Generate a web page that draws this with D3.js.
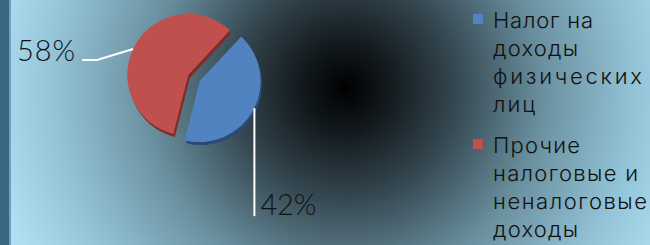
<!DOCTYPE html>
<html><head><meta charset="utf-8">
<script src="https://cdn.jsdelivr.net/npm/d3@7"></script>
<style>
html,body{margin:0;padding:0;overflow:hidden;background:#000;}
svg{display:block;}
</style></head>
<body>
<script>
const categories = ["Налог на доходы физических лиц", "Прочие налоговые и неналоговые доходы"];
const values = [42, 58];
const labels = ["42%", "58%"];
const legendLines = [["Налог на", "доходы", "физических", "лиц"], ["Прочие", "налоговые и", "неналоговые", "доходы"]];
const colors = ["#5083c0", "#c0504d"];
const darkColors = ["#2b4a78", "#7e2c2a"];

const W = 650, H = 245;
const svg = d3.select("body").append("svg").attr("width", W).attr("height", H);
const defs = svg.append("defs");

const bg = defs.append("radialGradient").attr("id", "bg")
  .attr("gradientUnits", "userSpaceOnUse").attr("cx", 345).attr("cy", 88).attr("r", 360);
[[0, "#000000"], [0.12, "#12191c"], [0.3, "#33454e"], [0.55, "#6a909f"], [0.8, "#92c2d6"], [1, "#aee0f2"]]
  .forEach(([o, c]) => bg.append("stop").attr("offset", o).attr("stop-color", c));

svg.append("rect").attr("width", W).attr("height", H).attr("fill", "url(#bg)");
svg.append("rect").attr("x", 0).attr("y", 0).attr("width", 9).attr("height", H).attr("fill", "#38687e");
svg.append("rect").attr("x", 9).attr("y", 0).attr("width", 2).attr("height", H).attr("fill", "#6c9fd0");

// Pie
const cx = 194, cy = 78, R = 61, explode = 6.5;
const startA = 43 * Math.PI / 180;
const pie = d3.pie().sort(null).startAngle(startA).endAngle(startA + 2 * Math.PI).value(d => d);
const arcs = pie(values);
const arc = d3.arc().innerRadius(0).outerRadius(R);
const g = svg.append("g").attr("transform", `translate(${cx},${cy})`);

function off(d) {
  const m = (d.startAngle + d.endAngle) / 2;
  return [Math.sin(m) * explode, -Math.cos(m) * explode];
}
// depth / shadow
arcs.forEach((d, i) => {
  const [ox, oy] = off(d);
  g.append("path").attr("d", arc(d)).attr("fill", darkColors[i])
    .attr("transform", `translate(${ox + 1.5},${oy + 3})`);
});
arcs.forEach((d, i) => {
  const [ox, oy] = off(d);
  g.append("path").attr("d", arc(d)).attr("fill", colors[i])
    .attr("transform", `translate(${ox},${oy})`);
});

// leader lines & labels
const labelFont = "Lato, 'DejaVu Sans', sans-serif";
arcs.forEach((d, i) => {
  const [ox, oy] = off(d);
  const m = (d.startAngle + d.endAngle) / 2 - (i === 1 ? 0.06 : 0.04);
  const px = cx + ox + Math.sin(m) * R, py = cy + oy - Math.cos(m) * R;
  if (i === 0) {
    svg.append("path").attr("d", `M${px},${py}V${py + 108}`)
      .attr("stroke", "#ffffff").attr("stroke-width", 2).attr("fill", "none");
    svg.append("text").attr("x", px + 6).attr("y", py + 107).text(labels[i])
      .attr("font-family", labelFont).attr("font-weight", 300).attr("font-size", 29)
      .attr("textLength", 56).attr("lengthAdjust", "spacing").attr("fill", "#111");
  } else {
    const ex = px - 36, ey = py + 11;
    svg.append("path").attr("d", `M${px},${py}L${ex},${ey}H${ex - 15}`)
      .attr("stroke", "#ffffff").attr("stroke-width", 2).attr("fill", "none");
    svg.append("text").attr("x", ex - 22).attr("y", ey + 1).attr("text-anchor", "end").text(labels[i])
      .attr("font-family", labelFont).attr("font-weight", 300).attr("font-size", 29)
      .attr("textLength", 58).attr("lengthAdjust", "spacing").attr("fill", "#111");
  }
});

// legend
const legendWidths = [[100, 85, 149, 42], [87, 145, 154, 85]];
const lg = svg.append("g");
let y = 28;
legendLines.forEach((lines, i) => {
  lg.append("rect").attr("x", 473).attr("y", y - 14).attr("width", 10).attr("height", 10).attr("fill", colors[i]);
  lines.forEach((t, j) => {
    lg.append("text").attr("x", 493).attr("y", y).text(t)
      .attr("font-family", "Inter, 'DejaVu Sans', sans-serif").attr("font-weight", 300).attr("font-size", 22)
      .attr("textLength", legendWidths[i][j]).attr("lengthAdjust", "spacing")
      .attr("fill", "#111");
    y += 28;
  });
  y += 13;
});
</script>
</body></html>
